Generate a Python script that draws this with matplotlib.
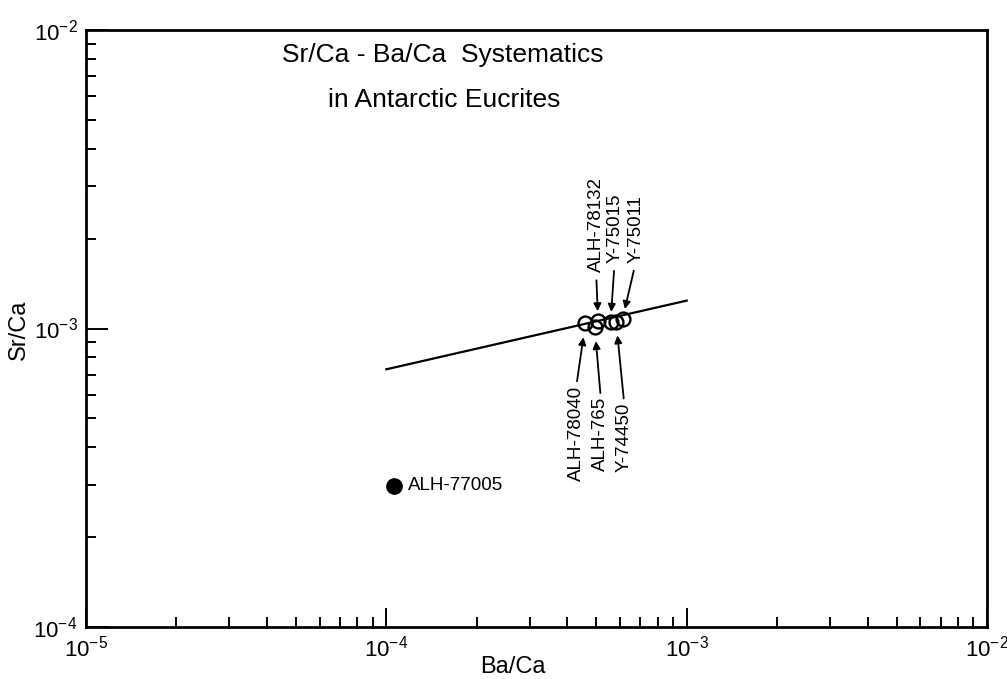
import numpy as np
import matplotlib
matplotlib.use('Agg')
import matplotlib.pyplot as plt
import matplotlib.transforms as mtransforms
from matplotlib.ticker import LogLocator, NullFormatter

plt.rcParams['font.family'] = ['Liberation Sans', 'DejaVu Sans']

# eucrites (open circles)
names = ['ALH-78040', 'ALH-765', 'ALH-78132', 'Y-75015', 'Y-74450', 'Y-75011']
ba_ca = [4.60e-4, 4.94e-4, 5.07e-4, 5.58e-4, 5.82e-4, 6.12e-4]
sr_ca = [1.04e-3, 1.01e-3, 1.06e-3, 1.055e-3, 1.055e-3, 1.08e-3]

# ALH-77005 (filled circle)
odd_name = 'ALH-77005'
odd_ba = [1.06e-4]
odd_sr = [2.97e-4]

# reference line
line_ba = [1.0e-4, 1.0e-3]
line_sr = [7.3e-4, 1.24e-3]

# where each label sits relative to its circle, pixels
label_off = [(-9, -62), (6, -70), (-2, 49), (4, 59), (8, -81), (13, 56)]

fig = plt.figure(figsize=(10.07, 6.79), dpi=100)
ax = fig.add_axes([0.0854, 0.0766, 0.8948, 0.8792])

ax.set_xscale('log')
ax.set_yscale('log')
ax.set_xlim(1e-5, 1e-2)
ax.set_ylim(1e-4, 1e-2)

ax.plot(line_ba, line_sr, color='k', lw=1.6, zorder=2)
ax.plot(ba_ca, sr_ca, 'o', ms=10, mfc='none', mec='k', mew=1.7, zorder=3)
ax.plot(odd_ba, odd_sr, 'o', ms=11, color='k', zorder=3)

for nm, x, y, (dx, dy) in zip(names, ba_ca, sr_ca, label_off):
    above = dy > 0
    ax.annotate(nm, xy=(x, y), xytext=(dx, dy), textcoords='offset pixels',
                rotation=90, ha='center', va='bottom' if above else 'top',
                fontsize=13.5,
                arrowprops=dict(arrowstyle='-|>', color='k', lw=1.3,
                                mutation_scale=11,
                                shrinkA=4 if above else 1,
                                shrinkB=7 if above else 10,
                                relpos=(0.5, 0) if above else (0.5, 1)))

ax.annotate(odd_name, xy=(odd_ba[0], odd_sr[0]), xytext=(14, 0),
            textcoords='offset pixels', ha='left', va='center', fontsize=13.5)

ax.text(0.396, 0.958, 'Sr/Ca - Ba/Ca  Systematics', transform=ax.transAxes,
        ha='center', va='center', fontsize=19)
ax.text(0.398, 0.883, 'in Antarctic Eucrites', transform=ax.transAxes,
        ha='center', va='center', fontsize=19)

ax.set_xlabel('Ba/Ca', fontsize=17)
ax.set_ylabel('Sr/Ca', fontsize=17)
ax.xaxis.set_label_coords(0.474, -0.049)
ax.yaxis.set_label_coords(-0.062, 0.497)

for a in (ax.xaxis, ax.yaxis):
    a.set_major_locator(LogLocator(base=10))
    a.set_minor_locator(LogLocator(base=10, subs=np.arange(2, 10)))
    a.set_minor_formatter(NullFormatter())

ax.tick_params(which='both', direction='in', top=False, right=False,
               width=1.4, labelsize=16, pad=6)
ax.tick_params(axis='x', which='major', length=14)
ax.tick_params(axis='y', which='major', length=16)
ax.tick_params(which='minor', length=7)

for s in ax.spines.values():
    s.set_linewidth(2)

# the 10^-2 label at the right edge: nudge it left so it stays in the picture
fig.canvas.draw()
last = ax.xaxis.get_major_ticks()[-1].label1
shift = mtransforms.ScaledTranslation(-6 / 100, 0, fig.dpi_scale_trans)
last.set_transform(last.get_transform() + shift)

fig.savefig('out.png', dpi=100)
